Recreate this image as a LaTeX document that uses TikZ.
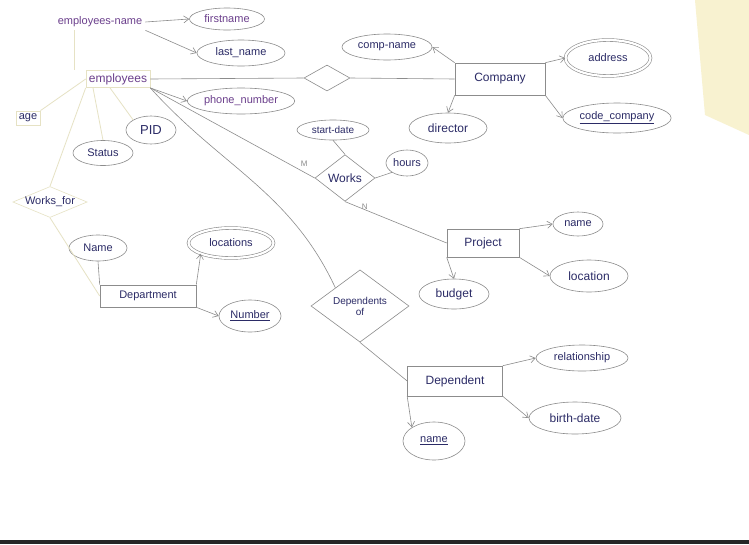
\documentclass[tikz,border=0pt]{standalone}
\usepackage{fontspec}
\setmainfont{Liberation Sans}
\usetikzlibrary{shapes.geometric,arrows.meta}
\definecolor{linec}{HTML}{8C8C8C}
\definecolor{faintc}{HTML}{E6E2C4}
\definecolor{inkc}{HTML}{2B2B66}
\definecolor{purp}{HTML}{6B3F8C}
\definecolor{yel}{HTML}{F8F2D0}
\begin{document}
\begin{tikzpicture}[x=1pt,y=-1pt,
  every node/.style={text=inkc,font=\fontsize{11}{12}\selectfont},
  ent/.style={draw=linec,line width=0.6pt,rectangle,inner sep=3pt},
  attr/.style={draw=linec,line width=0.6pt,ellipse,inner sep=1pt},
  dattr/.style={attr,double=white,double distance=2.2pt},
  rel/.style={draw=linec,line width=0.6pt,diamond,inner sep=1pt},
  faintbox/.style={draw=faintc,line width=0.6pt,rectangle,inner sep=3pt},
  con/.style={draw=linec,line width=0.6pt},
  arr/.style={con,-{Straight Barb[length=5pt,width=7pt]}},
  faint/.style={draw=faintc,line width=0.8pt},
  card/.style={text=linec,font=\fontsize{8}{9}\selectfont}]
\useasboundingbox (0,0) rectangle (749,544);
\fill[white] (0,0) rectangle (749,544);
\fill[yel] (695,0) -- (749,0) -- (749,135) -- (705,115) -- cycle;
\fill[black!85] (0,540) rectangle (749,544);
% nodes
\node[inner sep=3pt,text=purp] (en) at (100,22) {employees-name};
\node[attr,minimum width=75pt,minimum height=22pt,text=purp] (fn) at (227,19) {firstname};
\node[attr,minimum width=88pt,minimum height=26pt] (ln) at (241,53) {last\_name};
\node[faintbox,text=purp] (emp) at (118,79) {\fontsize{12}{13}\selectfont employees};
\node[attr,minimum width=95pt,minimum height=26pt,text=purp] (ph) at (241,101) {phone\_number};
\node[faintbox] (age) at (28,118) {age};
\node[attr,minimum width=50pt,minimum height=28pt] (pid) at (151,130) {\fontsize{13}{14}\selectfont PID};
\node[attr,minimum width=60pt,minimum height=25pt] (status) at (103,153) {Status};
\node[draw=faintc,line width=0.6pt,diamond,aspect=2.4,inner sep=0pt] (wf) at (50,202) {Works\_for};
\node[attr,minimum width=58pt,minimum height=26pt] (dnm) at (98,248) {Name};
\node[dattr,minimum width=85pt,minimum height=30pt] (locs) at (231,243) {locations};
\node[ent,minimum width=96pt,minimum height=22pt] (dept) at (148,296) {Department};
\node[attr,minimum width=62pt,minimum height=32pt] (num) at (250,316) {\underline{Number}};
\node[attr,minimum width=90pt,minimum height=26pt] (cn) at (387,47) {comp-name};
\node[rel,minimum width=46pt,minimum height=26pt] (d1) at (327,78) {};
\node[ent,minimum width=90pt,minimum height=32pt] (comp) at (500,79) {\fontsize{12}{13}\selectfont Company};
\node[dattr,minimum width=85pt,minimum height=36pt] (addr) at (608,58) {address};
\node[attr,minimum width=100pt,minimum height=30pt] (cc) at (617,118) {\underline{code\_company}};
\node[attr,minimum width=78pt,minimum height=30pt] (dir) at (448,128) {\fontsize{12}{13}\selectfont director};
\node[attr,minimum width=72pt,minimum height=20pt,font=\fontsize{10}{11}\selectfont] (sd) at (333,130) {start-date};
\node[rel,minimum width=60pt,minimum height=44pt] (works) at (345,178) {\fontsize{12}{13}\selectfont Works};
\node[attr,minimum width=42pt,minimum height=26pt] (hours) at (407,163) {hours};
\node[ent,minimum width=72pt,minimum height=28pt] (proj) at (483,243) {\fontsize{12}{13}\selectfont Project};
\node[attr,minimum width=50pt,minimum height=24pt] (pnm) at (578,224) {name};
\node[attr,minimum width=78pt,minimum height=32pt] (ploc) at (589,276) {\fontsize{12}{13}\selectfont location};
\node[attr,minimum width=70pt,minimum height=30pt] (bud) at (454,294) {\fontsize{12}{13}\selectfont budget};
\node[rel,minimum width=98pt,minimum height=62pt,align=center,inner sep=0pt,font=\fontsize{10}{11}\selectfont] (depof) at (360,306) {Dependents\\of};
\node[ent,minimum width=95pt,minimum height=30pt] (dep) at (455,381) {\fontsize{12}{13}\selectfont Dependent};
\node[attr,minimum width=92pt,minimum height=26pt] (rel) at (582,358) {relationship};
\node[attr,minimum width=92pt,minimum height=32pt] (bd) at (575,418) {\fontsize{12}{13}\selectfont birth-date};
\node[attr,minimum width=62pt,minimum height=38pt] (dnm2) at (434,441) {\underline{name}};
% connectors
\draw[arr] (en.east) -- (fn.west);
\draw[arr] (en.south east) -- (ln.west);
\draw[faint] (en.south west) ++(20,0) coordinate (c1) -- (c1 |- emp.north);
\draw[arr] (emp.south east) -- (ph.west);
\draw[con] (emp.east) -- (d1.west);
\draw[con] (d1.east) -- (comp.west);
\draw[arr] (comp.north west) -- (cn.east);
\draw[arr] (comp.south west) -- (dir.north);
\draw[arr] (comp.north east) -- (addr.west);
\draw[arr] (comp.south east) -- (cc.west);
\draw[con] (emp.south east) -- node[card,pos=0.9,above right=-1pt] {M} (works.west);
\draw[con] (works.north) -- (sd.south);
\draw[con] (works.east) -- (hours.south west);
\draw[con] (works.south) -- node[card,pos=0.12,right=1pt] {N} (proj.west);
\draw[arr] (proj.north east) -- (pnm.west);
\draw[arr] (proj.south east) -- (ploc.west);
\draw[arr] (proj.south west) -- (bud.north);
\draw[con] (emp.south east) to[out=-48,in=115] (depof.north west);
\draw[con] (depof.south) -- (dep.west);
\draw[arr] (dep.north east) -- (rel.west);
\draw[arr] (dep.south east) -- (bd.west);
\draw[arr] (dep.south west) -- (dnm2.north west);
\draw[faint] (emp.south) ++(-25,0) coordinate (c2) -- (status.north);
\draw[faint] (emp.south) ++(-8,0) coordinate (c3) -- (pid.north west);
\draw[faint] (emp.west) -- (age.north east);
\draw[faint] (wf.north) -- (emp.south west);
\draw[faint] (wf.south) -- (dept.west);
\draw[con] (dept.north west) -- (dnm.south);
\draw[arr] (dept.north east) -- (locs.south west);
\draw[arr] (dept.south east) -- (num.west);
\end{tikzpicture}
\end{document}
